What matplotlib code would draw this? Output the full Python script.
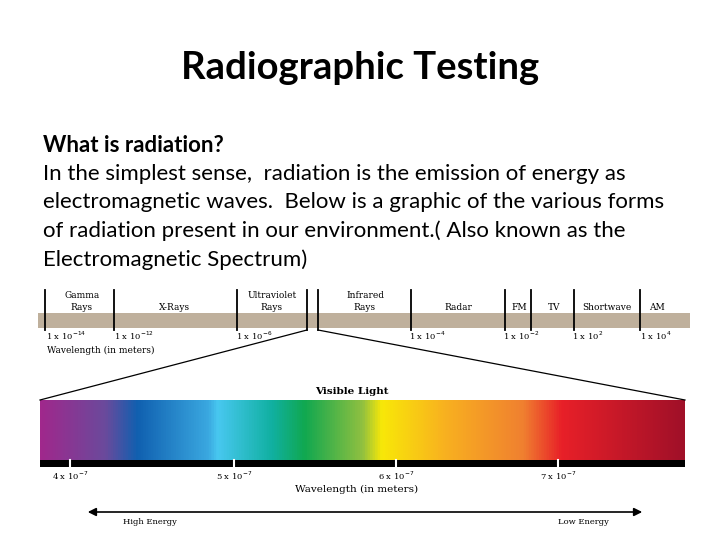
import numpy as np
import matplotlib
matplotlib.use('Agg')
import matplotlib.pyplot as plt
from matplotlib.colors import LinearSegmentedColormap

title = 'Radiographic Testing'
body_lines = [
    'What is radiation?',
    'In the simplest sense,  radiation is the emission of energy as',
    'electromagnetic waves.  Below is a graphic of the various forms',
    'of radiation present in our environment.( Also known as the',
    'Electromagnetic Spectrum)',
]

# top band: region names and divider positions (pixels)
band_names = [('Gamma', 'Rays'), ('', 'X-Rays'), ('Ultraviolet', 'Rays'), ('Infrared', 'Rays'),
              ('', 'Radar'), ('', 'FM'), ('', 'TV'), ('', 'Shortwave'), ('', 'AM')]
band_centers = [82, 175, 272, 365, 458, 519, 554, 607, 657]
dividers = [45, 114, 237, 307, 318, 411, 505, 531, 574, 640]
wave_labels = ['1 x 10$^{-14}$', '1 x 10$^{-12}$', '1 x 10$^{-6}$', '1 x 10$^{-4}$',
               '1 x 10$^{-2}$', '1 x 10$^{2}$', '1 x 10$^{4}$']
wave_x = [46, 114, 236, 409, 503, 572, 640]

# visible spectrum
vis_labels = ['4 x 10$^{-7}$', '5 x 10$^{-7}$', '6 x 10$^{-7}$', '7 x 10$^{-7}$']
vis_x = [70, 234, 396, 558]
stops = [0.0, 0.1, 0.15, 0.26, 0.275, 0.36, 0.41, 0.5, 0.53, 0.63, 0.75, 0.81, 1.0]
colors = ['#a0288c', '#6a4a9c', '#1060b0', '#3aa8e0', '#48c8f0', '#10b0a0', '#10a850',
          '#90c040', '#f8e808', '#f8b020', '#f08030', '#e82028', '#a01028']

fig = plt.figure(figsize=(7.2, 5.4), dpi=100)
ax = fig.add_axes([0, 0, 1, 1])
ax.set_xlim(0, 720)
ax.set_ylim(540, 0)
ax.axis('off')

ax.text(360, 68, title, ha='center', va='center', fontsize=27.5, fontweight='bold', family='Lato')
for i, line in enumerate(body_lines):
    ax.text(43, 145 + i * 28.7, line, ha='left', va='center', fontsize=16,
            fontweight='bold' if i == 0 else 'normal', family='Lato')

serif = 'DejaVu Serif'
ax.fill_between([38, 690], 313, 328, color='#bfb09c', lw=0)
for x in dividers:
    ax.plot([x, x], [290, 330], color='black', lw=1.3)
for (a, b), x in zip(band_names, band_centers):
    if a:
        ax.text(x, 296, a, ha='center', va='center', fontsize=6.5, family=serif)
    ax.text(x, 307, b, ha='center', va='center', fontsize=6.5, family=serif)
for lab, x in zip(wave_labels, wave_x):
    ax.text(x, 336, lab, ha='left', va='center', fontsize=6, family=serif)
ax.text(47, 350, 'Wavelength (in meters)', ha='left', va='center', fontsize=6.5, family=serif)

ax.plot([307, 40], [330, 400], color='black', lw=0.9)
ax.plot([318, 685], [330, 400], color='black', lw=0.9)
ax.text(352, 392, 'Visible Light', ha='center', va='center', fontsize=7.5, fontweight='bold', family=serif)

cmap = LinearSegmentedColormap.from_list('vis', list(zip(stops, colors)))
grad = np.linspace(0, 1, 512).reshape(1, -1)
ax.imshow(grad, cmap=cmap, aspect='auto', extent=[40, 685, 460, 400])
ax.fill_between([40, 685], 460, 467, color='black', lw=0)
for lab, x in zip(vis_labels, vis_x):
    ax.plot([x, x], [460, 467], color='white', lw=1.5)
    ax.text(x, 476, lab, ha='center', va='center', fontsize=6, family=serif)
ax.text(357, 489, 'Wavelength (in meters)', ha='center', va='center', fontsize=7.5, family=serif)

ax.annotate('', xy=(85, 512), xytext=(645, 512),
            arrowprops=dict(arrowstyle='<|-|>', color='black', lw=1.2, mutation_scale=12))
ax.text(150, 522, 'High Energy', ha='center', va='center', fontsize=6, family=serif)
ax.text(583, 522, 'Low Energy', ha='center', va='center', fontsize=6, family=serif)

ax.set_xlim(0, 720)
ax.set_ylim(540, 0)
fig.savefig('out.png', dpi=100)
